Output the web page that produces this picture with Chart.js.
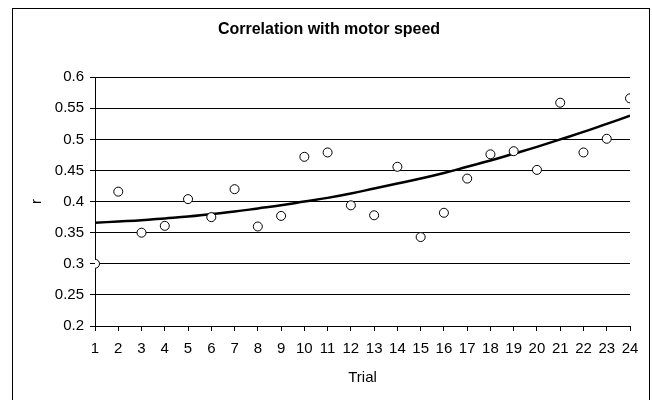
<!DOCTYPE html>
<html>
<head>
<meta charset="utf-8">
<script src="https://cdn.jsdelivr.net/npm/chart.js@4/dist/chart.umd.min.js"></script>
<style>
  body { margin: 0; background: #fff; }
  #wrap { width: 652px; height: 400px; }
</style>
</head>
<body>
<div id="wrap"><canvas id="mycanvas" width="652" height="400"></canvas></div>
<script>
var trials = [1, 2, 3, 4, 5, 6, 7, 8, 9, 10, 11, 12, 13, 14, 15, 16, 17, 18, 19, 20, 21, 22, 23, 24];
var r_values = [0.300, 0.416, 0.350, 0.361, 0.404, 0.375, 0.420, 0.360, 0.377, 0.472, 0.479, 0.394,
                0.378, 0.456, 0.343, 0.382, 0.437, 0.476, 0.481, 0.451, 0.559, 0.479, 0.501, 0.566];
var trend_values = [0.366, 0.368, 0.370, 0.373, 0.376, 0.380, 0.384, 0.389, 0.394, 0.400, 0.406, 0.413,
                    0.421, 0.429, 0.437, 0.446, 0.456, 0.466, 0.477, 0.488, 0.500, 0.512, 0.525, 0.538];
var y_ticks = [0.2, 0.25, 0.3, 0.35, 0.4, 0.45, 0.5, 0.55, 0.6];

var points = [];
var trend = [];
for (var i in trials) {
	points.push({x: trials[i], y: r_values[i]});
	trend.push({x: trials[i], y: trend_values[i]});
}

Chart.defaults.font.family = "'Liberation Sans', Arial, sans-serif";
Chart.defaults.color = "#000";

// outer frame like the spreadsheet chart border
var framePlugin = {
	id: 'frame',
	beforeDraw: function(chart) {
		var c = chart.ctx;
		c.save();
		c.fillStyle = "#fff";
		c.fillRect(0, 0, chart.width, chart.height);
		c.strokeStyle = "#000";
		c.lineWidth = 1;
		c.strokeRect(12.5, 8.5, 637, 400);
		c.restore();
	}
};

var ctx = document.getElementById("mycanvas");
var chart = new Chart(ctx, {
	type: 'scatter',
	data: {
		datasets: [
			{
				label: "r",
				data: points,
				showLine: false,
				pointStyle: 'circle',
				pointRadius: 4.5,
				pointBorderWidth: 1,
				pointBackgroundColor: "#fff",
				pointBorderColor: "#000",
				order: 0
			},
			{
				label: "trend",
				data: trend,
				showLine: true,
				borderColor: "#000",
				borderWidth: 2.5,
				pointRadius: 0,
				tension: 0.4,
				fill: false,
				order: 1
			}
		]
	},
	plugins: [framePlugin],
	options: {
		responsive: false,
		animation: false,
		layout: { padding: { left: 28, right: 22, top: 8, bottom: 9 } },
		plugins: {
			legend: { display: false },
			tooltip: { enabled: false },
			title: {
				display: true,
				text: "Correlation with motor speed",
				font: { size: 16, weight: 'bold' },
				padding: { top: 12, bottom: 38 }
			}
		},
		scales: {
			x: {
				type: 'linear',
				min: 1,
				max: 24,
				ticks: { stepSize: 1, padding: 9, font: { size: 15 }, maxRotation: 0, autoSkip: false },
				grid: { drawOnChartArea: false, drawTicks: true, tickLength: 5, color: "#000" },
				border: { color: "#000", width: 1 },
				title: { display: true, text: "Trial", font: { size: 15 }, padding: { top: 6 } },
				afterFit: function(scale) { scale.height = 65; }
			},
			y: {
				min: 0.2,
				max: 0.6,
				afterBuildTicks: function(scale) {
					scale.ticks = y_ticks.map(function(v) { return {value: v}; });
				},
				ticks: {
					padding: 6,
					font: { size: 15 },
					callback: function(v) { return String(Math.round(v * 100) / 100); }
				},
				grid: { color: "#000", tickLength: 5 },
				border: { color: "#000", width: 1 },
				title: { display: true, text: "r", font: { size: 15 }, padding: { top: 0 } },
				afterFit: function(scale) { scale.width = 67; }
			}
		}
	}
});
</script>
</body>
</html>
